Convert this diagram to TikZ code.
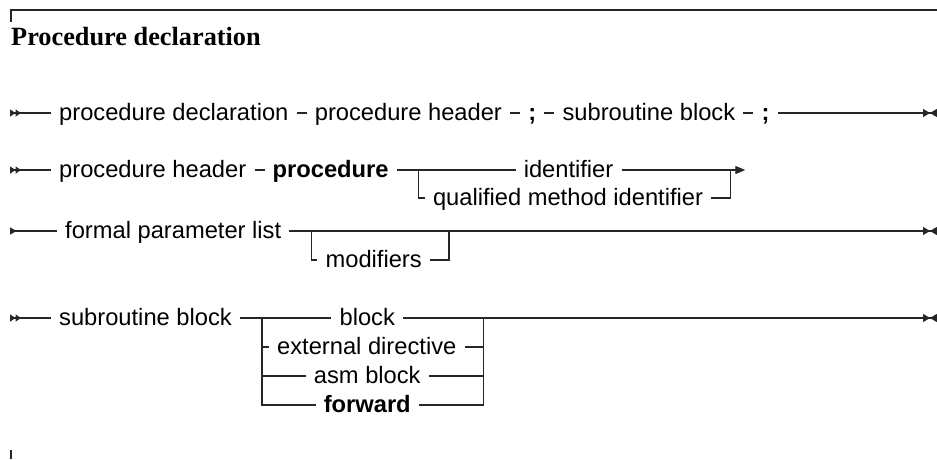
\documentclass[tikz,border=0pt]{standalone}
\usepackage{fontspec}
\setmainfont{Liberation Sans}
\newfontfamily\headfont{Liberation Serif}
\usetikzlibrary{arrows.meta, positioning, calc}

\begin{document}
\begin{tikzpicture}[
    x=1pt, y=-1pt,
    item/.style     ={font=\fontsize{23.7}{28}\selectfont, inner xsep=8pt, inner ysep=0pt,
                      text height=18pt, text depth=3pt},
    term/.style     ={item, font=\fontsize{23.7}{28}\selectfont\bfseries},
    head/.style     ={font=\headfont\fontsize{26.3}{30}\selectfont\bfseries, inner sep=0pt},
    ln/.style       ={draw=black!85, line width=1.2pt},
    frame/.style    ={draw=black!85, line width=1.3pt},
    startmark/.style={ln, {Triangle[reversed,length=5.5pt,width=7pt,sep=0pt]Triangle[reversed,length=5.5pt,width=7pt,sep=0pt]}-},
    startone/.style ={ln, {Triangle[reversed,length=6.5pt,width=7pt]}-},
    endmark/.style  ={ln, -{Triangle[length=7pt,width=8pt,sep=0pt]Triangle[reversed,length=7pt,width=8pt]}},
    contmark/.style ={ln, -{Triangle[length=10pt,width=8pt]}}
  ]
  \useasboundingbox (0,0) rectangle (937,459);

  %% ---- frame and title ---------------------------------------------
  \draw[frame] (11,22) -- (11,10) -- (937,10);
  \draw[frame] (11,450) -- (11,459);
  \node[head, anchor=base west] (title) at (11,45) {Procedure declaration};

  %% ---- procedure declaration ---------------------------------------
  \coordinate (r1s) at (10,113);
  \node[item, anchor=west] (pdecl) at (51,113) {procedure declaration};
  \node[item, right=10pt of pdecl] (phead) {procedure header};
  \node[term, right=10pt of phead] (semi1) {;};
  \node[item, right=10pt of semi1] (sblock) {subroutine block};
  \node[term, right=10pt of sblock] (semi2) {;};
  \coordinate (r1e) at (937,113);
  \draw[startmark] (r1s) -- (pdecl);
  \draw[ln] (pdecl) -- (phead) -- (semi1) -- (sblock) -- (semi2);
  \draw[endmark] (semi2) -- (r1e);

  %% ---- procedure header --------------------------------------------
  \coordinate (r2s) at (10,170);
  \node[item, anchor=west] (phead2) at (51,170) {procedure header};
  \node[term, right=10pt of phead2] (kwproc) {procedure};
  \coordinate (b2l) at ($(kwproc.east)+(22,0)$);
  \node[item, anchor=west] (qmi) at ($(b2l)+(6,28)$) {qualified method identifier};
  \coordinate (b2r) at ($(qmi.east)+(19,-28)$);
  \node[item] (ident) at ($(b2l)!0.5!(b2r)+(-6,0)$) {identifier};
  \coordinate (r2e) at ($(b2r)+(15,0)$);
  \draw[startmark] (r2s) -- (phead2);
  \draw[ln] (phead2) -- (kwproc) -- (b2l) -- (ident);
  \draw[ln] (b2l) |- (qmi);
  \draw[ln] (qmi) -| (b2r);
  \draw[contmark] (ident) -- (b2r) -- (r2e);

  %% ---- formal parameter list ---------------------------------------
  \coordinate (r3s) at (10,231);
  \node[item, anchor=west] (fpl) at (57,231) {formal parameter list};
  \coordinate (b3l) at ($(fpl.east)+(22,0)$);
  \node[item, anchor=west] (modi) at ($(b3l)+(6,29)$) {modifiers};
  \coordinate (b3r) at ($(modi.east)+(19,-29)$);
  \coordinate (r3e) at (937,231);
  \draw[startone] (r3s) -- (fpl);
  \draw[endmark] (fpl) -- (r3e);
  \draw[ln] (b3l) |- (modi);
  \draw[ln] (modi) -| (b3r);

  %% ---- subroutine block --------------------------------------------
  \coordinate (r4s) at (10,318);
  \node[item, anchor=west] (sblock2) at (51,318) {subroutine block};
  \coordinate (b4l) at ($(sblock2.east)+(22,0)$);
  \node[item, anchor=west] (extdir) at ($(b4l)+(7,29)$) {external directive};
  \coordinate (b4r) at ($(extdir.east)+(19,-29)$);
  \coordinate (b4m) at ($(b4l)!0.5!(b4r)+(-5.5,0)$);
  \node[item] (blk) at (b4m) {block};
  \node[item] (asmb) at ($(b4m)+(0,58)$) {asm block};
  \node[term] (fwd) at ($(b4m)+(0,87)$) {forward};
  \coordinate (r4e) at (937,318);
  \draw[startmark] (r4s) -- (sblock2);
  \draw[ln] (sblock2) -- (b4l) -- (blk);
  \draw[ln] (b4l) |- (fwd);
  \draw[ln] (fwd) -| (b4r);
  \draw[ln] (b4l |- extdir) -- (extdir);
  \draw[ln] (extdir) -- (extdir -| b4r);
  \draw[ln] (b4l |- asmb) -- (asmb);
  \draw[ln] (asmb) -- (asmb -| b4r);
  \draw[endmark] (blk) -- (b4r) -- (r4e);

\end{tikzpicture}
\end{document}
